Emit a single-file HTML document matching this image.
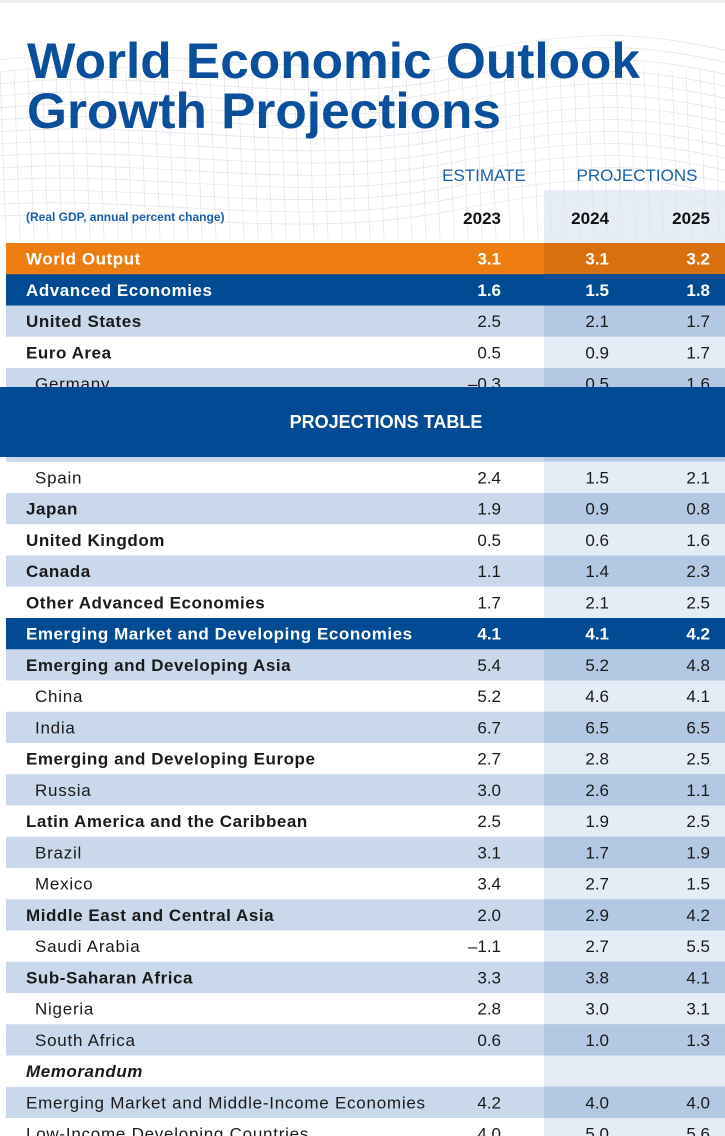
<!DOCTYPE html>
<html><head><meta charset="utf-8"><title>WEO Growth Projections</title>
<style>
html,body{margin:0;padding:0;background:#fff;}
svg{display:block;font-family:"Liberation Sans",sans-serif;}
</style></head>
<body>
<svg id="chart" width="725" height="1136" viewBox="0 0 725 1136" xmlns="http://www.w3.org/2000/svg">
  <rect x="0" y="0" width="725" height="1136" fill="#fff"/>
  <rect x="0" y="0" width="725" height="3" fill="#eeeeee"/>
  <g id="bg" stroke="#d9dde3" stroke-width="0.7" fill="none" opacity="0.8"></g>
  <rect x="544" y="190" width="181" height="53" fill="#dde6f1" opacity="0.7"/>
  <text x="27" y="78" font-size="50" font-weight="bold" fill="#0b4f9c" textLength="613" lengthAdjust="spacingAndGlyphs">World Economic Outlook</text>
  <text x="27" y="128" font-size="50" font-weight="bold" fill="#0b4f9c" textLength="474" lengthAdjust="spacingAndGlyphs">Growth Projections</text>
  <text x="484" y="181" font-size="17" fill="#1b5ea8" text-anchor="middle">ESTIMATE</text>
  <text x="637" y="181" font-size="17" fill="#1b5ea8" text-anchor="middle">PROJECTIONS</text>
  <text x="26" y="221" font-size="12" font-weight="bold" fill="#1b5ea8">(Real GDP, annual percent change)</text>
  <text x="501" y="224" font-size="17" font-weight="bold" fill="#111" text-anchor="end">2023</text>
  <text x="609" y="224" font-size="17" font-weight="bold" fill="#111" text-anchor="end">2024</text>
  <text x="710" y="224" font-size="17" font-weight="bold" fill="#111" text-anchor="end">2025</text>
  <g id="rows"></g>
  <rect x="0" y="387" width="725" height="70" fill="#004b93"/>
  <text x="386" y="428" font-size="18" font-weight="bold" fill="#fff" text-anchor="middle">PROJECTIONS TABLE</text>
</svg>
<script>
const labels = ["World Output","Advanced Economies","United States","Euro Area","Germany","France","Italy","Spain","Japan","United Kingdom","Canada","Other Advanced Economies","Emerging Market and Developing Economies","Emerging and Developing Asia","China","India","Emerging and Developing Europe","Russia","Latin America and the Caribbean","Brazil","Mexico","Middle East and Central Asia","Saudi Arabia","Sub-Saharan Africa","Nigeria","South Africa","Memorandum","Emerging Market and Middle-Income Economies","Low-Income Developing Countries"];
const levels = [0,0,0,0,1,1,1,1,0,0,0,0,0,0,1,1,0,1,0,1,1,0,1,0,1,1,0,0,0];
const styles = ["orange","dark","bold","bold","norm","norm","norm","norm","bold","bold","bold","bold","dark","bold","norm","norm","bold","norm","bold","norm","norm","bold","norm","bold","norm","norm","memo","norm","norm"];
const shadedRows = [0,0,1,0,1,0,1,0,1,0,1,0,0,1,0,1,0,1,0,1,0,1,0,1,0,1,0,1,0];
const v2023 = ["3.1","1.6","2.5","0.5","\u20130.3","","","2.4","1.9","0.5","1.1","1.7","4.1","5.4","5.2","6.7","2.7","3.0","2.5","3.1","3.4","2.0","\u20131.1","3.3","2.8","0.6","","4.2","4.0"];
const v2024 = ["3.1","1.5","2.1","0.9","0.5","","","1.5","0.9","0.6","1.4","2.1","4.1","5.2","4.6","6.5","2.8","2.6","1.9","1.7","2.7","2.9","2.7","3.8","3.0","1.0","","4.0","5.0"];
const v2025 = ["3.2","1.8","1.7","1.7","1.6","","","2.1","0.8","1.6","2.3","2.5","4.2","4.8","4.1","6.5","2.5","1.1","2.5","1.9","1.5","4.2","5.5","4.1","3.1","1.3","","4.0","5.6"];

const NS="http://www.w3.org/2000/svg";
const top0=243, rowH=31.25, projX=544;
function rowY(i){return top0+i*rowH;}
function mk(tag,attrs,parent){const e=document.createElementNS(NS,tag);for(const k in attrs)e.setAttribute(k,attrs[k]);parent.appendChild(e);return e;}

const bg=document.getElementById('bg');
for(let k=0;k<14;k++){
  const y=60+k*12;
  const p=mk('path',{d:`M0 ${y} C 150 ${y-20+k}, 300 ${y+25}, 450 ${y-5} S 650 ${y-25}, 725 ${y-10}`},bg);
  
  
}
for(let x=0;x<725;x+=14){
  const l=mk('line',{x1:x,y1:70,x2:x+6,y2:240},bg);
  
  
}

const g=document.getElementById('rows');
labels.forEach((lab,i)=>{
  const st=styles[i], y=rowY(i);
  const shaded = shadedRows[i]===1;
  const row=mk('g',{},g);
  
  
  let base, proj, tc='#1a1a1a';
  if(st==='orange'){base='#ee7d11';proj='#d9700f';tc='#fff';}
  else if(st==='dark'){base='#004b93';proj='#004b93';tc='#fff';}
  else if(shaded){base='#c9d8ea';proj='#b3c8e2';}
  else {base='#ffffff';proj='#e4ecf5';}
  const r1=mk('rect',{x:6,y:y,width:719,height:rowH+0.5,fill:base},row);
  
  
  const r2=mk('rect',{x:projX,y:y,width:725-projX,height:rowH+0.5,fill:proj},row);
  
  
  const ty=y+rowH/2+6;
  const bold=(st==='orange'||st==='dark'||st==='bold'||st==='memo');
  const t=mk('text',{x:levels[i]?35:26,y:ty,'font-size':17,fill:tc,'font-weight':bold?'bold':'normal','font-style':st==='memo'?'italic':'normal','letter-spacing':bold?'0.55':'0.75'},row);
  t.textContent=lab;
  
  
  const vb=(st==='orange'||st==='dark');
  [[v2023[i],501],[v2024[i],609],[v2025[i],710]].forEach(([v,x],j)=>{
    if(v==='')return;
    const tv=mk('text',{x:x,y:ty,'font-size':17,fill:tc,'text-anchor':'end','font-weight':vb?'bold':'normal'},row);
    tv.textContent=v;
    
    
  });
});
</script>
</body></html>
